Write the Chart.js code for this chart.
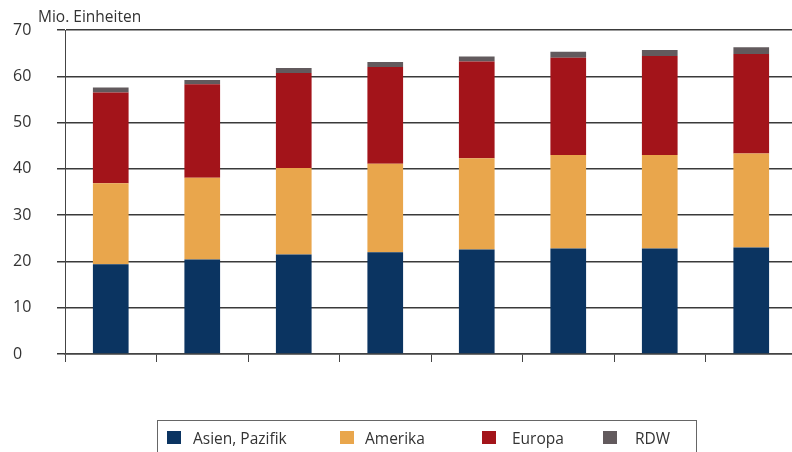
<!DOCTYPE html>
<html>
<head>
<meta charset="utf-8">
<script src="https://cdn.jsdelivr.net/npm/chart.js@4"></script>
<style>
  html, body { margin: 0; padding: 0; background: #fff; overflow: hidden; }
  #wrap { position: relative; width: 800px; height: 452px; }
  #legend {
    position: absolute; left: 157px; top: 420px; width: 540px; height: 40px;
    border: 1px solid #666; box-sizing: border-box;
    font-family: 'Open Sans', 'DejaVu Sans', sans-serif; font-size: 15.5px; color: #333;
  }
  #legend .item { position: absolute; top: 7px; height: 20px; line-height: 20px; white-space: nowrap; }
  #legend .sw { position: absolute; left: 0; top: 3px; width: 14px; height: 13px; }
  #legend .tx { position: absolute; top: 0; }
</style>
</head>
<body>
<div id="wrap">
  <canvas id="myChart"></canvas>
  <div id="legend"></div>
</div>
<script>
// Kategorien (im Original ohne Beschriftung)
var periods = ["", "", "", "", "", "", "", ""];

// Werte je Region in Mio. Einheiten (gestapelt)
var asienPazifik = [19.4, 20.4, 21.5, 22.0, 22.6, 22.8, 22.8, 23.0];
var amerika = [17.5, 17.7, 18.7, 19.1, 19.7, 20.2, 20.2, 20.3];
var europa = [19.6, 20.2, 20.5, 20.9, 20.9, 21.0, 21.4, 21.5];
var rdw = [1.1, 0.9, 1.1, 1.1, 1.1, 1.3, 1.3, 1.5];

var yTicks = [0, 10, 20, 30, 40, 50, 60, 70];
var unitText = "Mio. Einheiten";

var fontFamily = "'Open Sans', 'DejaVu Sans', sans-serif";

// Einheit oberhalb der y-Achse
var unitLabel = {
  id: "unitLabel",
  afterDraw: function (chart) {
    var ctx = chart.ctx;
    ctx.save();
    ctx.font = "15.5px " + fontFamily;
    ctx.fillStyle = "#333";
    ctx.textBaseline = "middle";
    ctx.textAlign = "left";
    ctx.fillText(unitText, chart.chartArea.left - 27, chart.chartArea.top - 12);
    ctx.restore();
  },
};

var ctx = document.getElementById("myChart").getContext("2d");
var myChart = new Chart(ctx, {
  type: "bar",
  data: {
    labels: periods,
    datasets: [
      { label: "Asien, Pazifik", data: asienPazifik, backgroundColor: "#0b3461" },
      { label: "Amerika", data: amerika, backgroundColor: "#e9a64c" },
      { label: "Europa", data: europa, backgroundColor: "#a3141a" },
      { label: "RDW", data: rdw, backgroundColor: "#625a5d" },
    ],
  },
  options: {
    responsive: true,
    maintainAspectRatio: false,
    animation: false,
    layout: { padding: { left: 13, right: 3, top: 30, bottom: 0 } },
    datasets: {
      bar: { categoryPercentage: 1, barPercentage: 0.39, borderWidth: 0 },
    },
    scales: {
      x: {
        stacked: true,
        grid: {
          offset: true,
          drawOnChartArea: false,
          drawTicks: true,
          tickLength: 8,
          color: "#444",
          lineWidth: 1,
        },
        border: { display: true, color: "#444", width: 1.5 },
        ticks: { display: false },
        afterFit: function (axis) {
          axis.height = 98;
          axis.paddingLeft = 0;
          axis.paddingRight = 0;
        },
      },
      y: {
        stacked: true,
        min: 0,
        max: 70,
        afterBuildTicks: function (axis) {
          axis.ticks = yTicks.map(function (v) { return { value: v }; });
        },
        afterFit: function (axis) {
          axis.width = 52;
          axis.paddingTop = 0;
          axis.paddingBottom = 0;
        },
        grid: { color: "#3a3a3a", lineWidth: 1.5, tickLength: 8 },
        border: { display: true, color: "#444", width: 1 },
        ticks: {
          padding: 26,
          crossAlign: "far",
          color: "#333",
          font: { family: fontFamily, size: 16 },
        },
      },
    },
    plugins: {
      legend: { display: false },
      tooltip: { enabled: false },
    },
  },
  plugins: [unitLabel],
});

// HTML-Legende mit Rahmen, aus den Datensätzen erzeugt
var legendOffsets = [9, 182, 324, 445];
var legendTextGap = [26, 25, 30, 32];
var legendEl = document.getElementById("legend");
myChart.data.datasets.forEach(function (ds, i) {
  var item = document.createElement("div");
  item.className = "item";
  item.style.left = legendOffsets[i] + "px";
  var sw = document.createElement("span");
  sw.className = "sw";
  sw.style.background = ds.backgroundColor;
  var tx = document.createElement("span");
  tx.className = "tx";
  tx.style.left = legendTextGap[i] + "px";
  tx.textContent = ds.label;
  item.appendChild(sw);
  item.appendChild(tx);
  legendEl.appendChild(item);
});
</script>
</body>
</html>
